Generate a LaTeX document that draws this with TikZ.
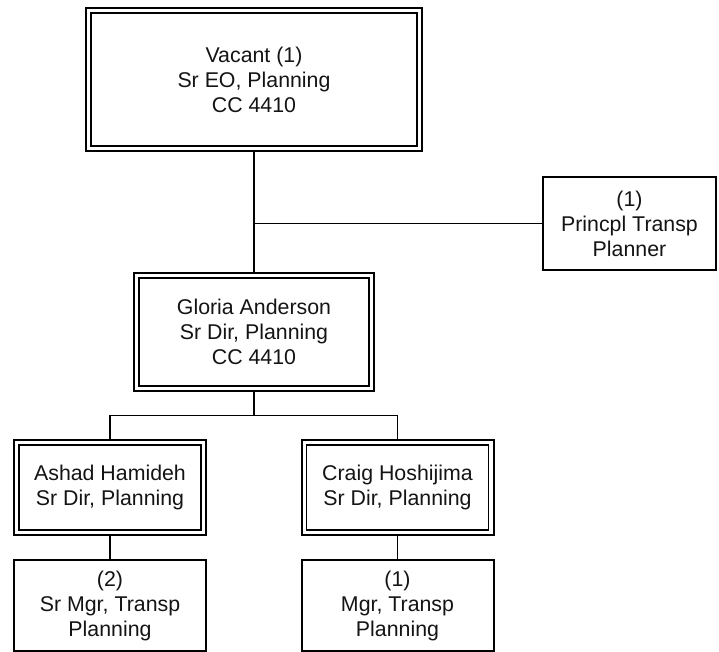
\documentclass[tikz,border=0pt]{standalone}
\usepackage{fontspec}
\setmainfont{Liberation Sans}
\usepackage{tikz}
\usetikzlibrary{positioning,calc}
\definecolor{linedark}{RGB}{0,0,0}
\definecolor{textdark}{RGB}{20,20,20}

\begin{document}
\begin{tikzpicture}[x=.75pt,y=-.75pt,
    every node/.style={font=\fontsize{16pt}{18.75pt}\selectfont,text=textdark,align=center,inner sep=0pt},
    openbox/.style={draw=linedark,fill=white,line width=1.5pt},
    seatbox/.style={openbox,path picture={
        \draw[linedark,line width=1pt] ([shift={(3.75pt,-3.75pt)}]path picture bounding box.north west) rectangle ([shift={(-3.75pt,3.75pt)}]path picture bounding box.south east);}},
    link/.style={draw=linedark,line width=1.4pt}]
    \useasboundingbox (0,0) rectangle (719,652);
    \node[seatbox,minimum width=252pt,minimum height=107.25pt] (vacant) at (254,79.5) {Vacant (1)\\Sr EO, Planning\\CC 4410};
    \node[openbox,minimum width=129.75pt,minimum height=69.75pt] (princpl) at (629.5,223.5) {(1)\\Princpl Transp\\Planner};
    \node[seatbox,minimum width=180pt,minimum height=88.5pt] (gloria) at (254,332) {Gloria Anderson\\Sr Dir, Planning\\CC 4410};
    \node[seatbox,minimum width=144pt,minimum height=71.25pt] (ashad) at (110,487.5) {Ashad Hamideh\\Sr Dir, Planning};
    \node[seatbox,minimum width=144pt,minimum height=71.25pt] (craig) at (397.5,487.5) {Craig Hoshijima\\Sr Dir, Planning};
    \node[openbox,minimum width=144pt,minimum height=68.25pt] (srmgr) at (110,605.5) {(2)\\Sr Mgr, Transp\\Planning};
    \node[openbox,minimum width=144pt,minimum height=68.25pt] (mgr) at (397.5,605.5) {(1)\\Mgr, Transp\\Planning};
    \coordinate (bus) at ($(gloria.south)!.5!(gloria.south |- ashad.north)$);
    \draw[link] (vacant.south) -- (gloria.north);
    \draw[link] (princpl.west) -- (princpl.west -| vacant.south);
    \draw[link] (gloria.south) -- (bus);
    \draw[link] (ashad.north) |- (bus) -| (craig.north);
    \draw[link] (ashad.south) -- (srmgr.north);
    \draw[link] (craig.south) -- (mgr.north);
\end{tikzpicture}
\end{document}
